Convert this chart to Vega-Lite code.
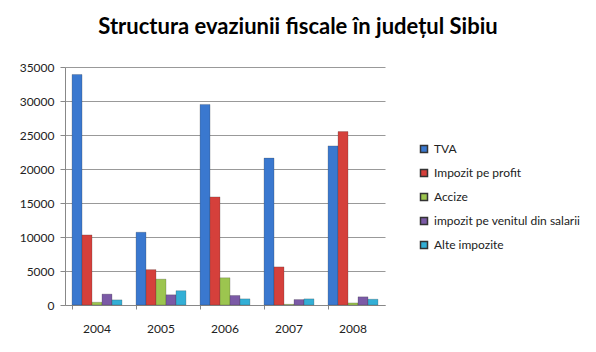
{
  "$schema": "https://vega.github.io/schema/vega-lite/v6.json",
  "width": 320,
  "height": 238,
  "autosize": {"type": "none"},
  "padding": {"left": 65, "top": 67, "right": 211, "bottom": 47},
  "background": "white",
  "title": {
    "text": "Structura evaziunii fiscale în județul Sibiu",
    "font": "Lato",
    "fontSize": 22,
    "fontWeight": "bold",
    "color": "black",
    "anchor": "middle",
    "dx": 73,
    "offset": 22
  },
  "data": {
    "values": [
      {"an": "2004", "tip": "TVA", "valoare": 33900},
      {"an": "2004", "tip": "Impozit pe profit", "valoare": 10300},
      {"an": "2004", "tip": "Accize", "valoare": 400},
      {"an": "2004", "tip": "impozit pe venitul din salarii", "valoare": 1600},
      {"an": "2004", "tip": "Alte impozite", "valoare": 750},
      {"an": "2005", "tip": "TVA", "valoare": 10700},
      {"an": "2005", "tip": "Impozit pe profit", "valoare": 5200},
      {"an": "2005", "tip": "Accize", "valoare": 3800},
      {"an": "2005", "tip": "impozit pe venitul din salarii", "valoare": 1500},
      {"an": "2005", "tip": "Alte impozite", "valoare": 2100},
      {"an": "2006", "tip": "TVA", "valoare": 29500},
      {"an": "2006", "tip": "Impozit pe profit", "valoare": 15900},
      {"an": "2006", "tip": "Accize", "valoare": 4000},
      {"an": "2006", "tip": "impozit pe venitul din salarii", "valoare": 1400},
      {"an": "2006", "tip": "Alte impozite", "valoare": 900},
      {"an": "2007", "tip": "TVA", "valoare": 21600},
      {"an": "2007", "tip": "Impozit pe profit", "valoare": 5600},
      {"an": "2007", "tip": "Accize", "valoare": 100},
      {"an": "2007", "tip": "impozit pe venitul din salarii", "valoare": 800},
      {"an": "2007", "tip": "Alte impozite", "valoare": 900},
      {"an": "2008", "tip": "TVA", "valoare": 23400},
      {"an": "2008", "tip": "Impozit pe profit", "valoare": 25500},
      {"an": "2008", "tip": "Accize", "valoare": 300},
      {"an": "2008", "tip": "impozit pe venitul din salarii", "valoare": 1200},
      {"an": "2008", "tip": "Alte impozite", "valoare": 850}
    ]
  },
  "mark": {"type": "bar", "stroke": "#333", "strokeWidth": 0.4, "strokeOpacity": 0.6},
  "encoding": {
    "x": {
      "field": "an",
      "type": "nominal",
      "scale": {"paddingInner": 0.22, "paddingOuter": 0.11},
      "axis": {
        "title": null,
        "labelAngle": 0,
        "labelFont": "Lato",
        "labelFontSize": 12,
        "labelColor": "#222",
        "labelPadding": 14,
        "ticks": true,
        "tickSize": 4,
        "tickColor": "#888",
        "domainColor": "#888",
        "bandPosition": 0
      }
    },
    "xOffset": {
      "field": "tip",
      "type": "nominal",
      "sort": ["TVA", "Impozit pe profit", "Accize", "impozit pe venitul din salarii", "Alte impozite"]
    },
    "y": {
      "field": "valoare",
      "type": "quantitative",
      "scale": {"domain": [0, 35000], "nice": false},
      "axis": {
        "title": null,
        "values": [0, 5000, 10000, 15000, 20000, 25000, 30000, 35000],
        "format": "d",
        "labelFont": "Lato",
        "labelFontSize": 12,
        "labelColor": "#222",
        "labelPadding": 6,
        "tickSize": 5,
        "tickColor": "#888",
        "domainColor": "#888",
        "gridColor": "#999",
        "gridWidth": 1.2
      }
    },
    "color": {
      "field": "tip",
      "type": "nominal",
      "sort": ["TVA", "Impozit pe profit", "Accize", "impozit pe venitul din salarii", "Alte impozite"],
      "scale": {
        "domain": ["TVA", "Impozit pe profit", "Accize", "impozit pe venitul din salarii", "Alte impozite"],
        "range": ["#3a78cf", "#d5403b", "#9cc54f", "#7b5aa6", "#33afd6"]
      },
      "legend": {
        "title": null,
        "orient": "none",
        "legendX": 353,
        "legendY": 76,
        "symbolType": "square",
        "symbolSize": 49,
        "labelFont": "Lato",
        "labelFontSize": 12,
        "labelColor": "#222",
        "rowPadding": 10,
        "labelOffset": 4
      }
    }
  },
  "config": {
    "view": {"stroke": null}
  }
}
